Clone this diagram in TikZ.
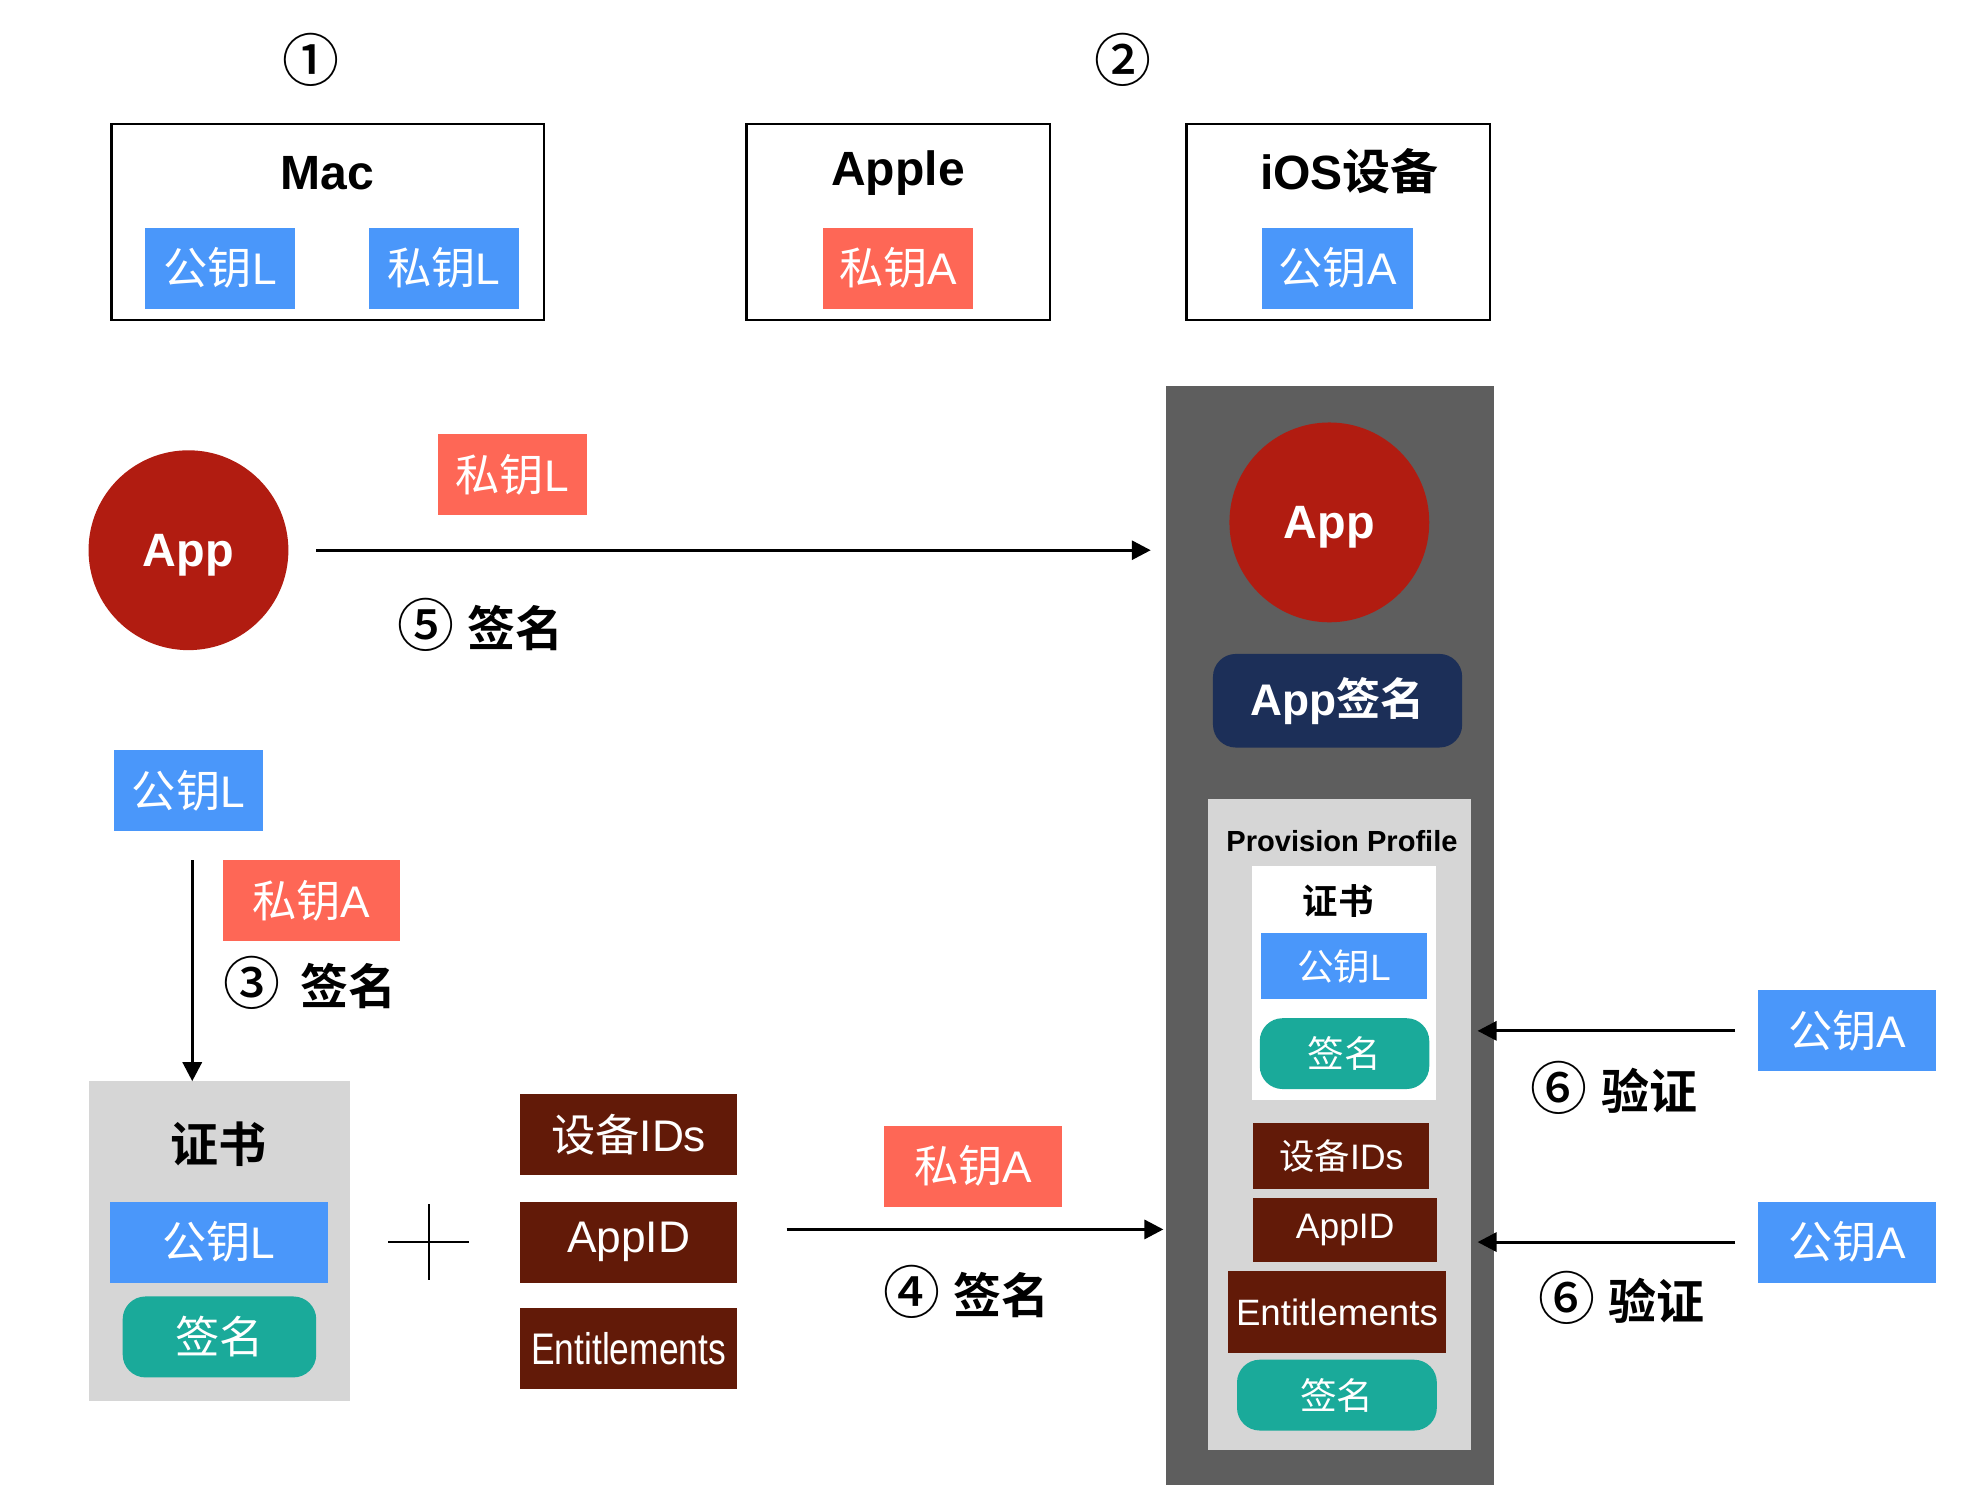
\documentclass[tikz,border=0pt]{standalone}
\usepackage{fontspec}
\usepackage{tikz}
\usetikzlibrary{arrows.meta}
\setmainfont{Liberation Sans}
\newfontfamily\cjk{Noto Sans CJK SC}[BoldFont={Noto Sans CJK SC Bold}]
\newfontfamily\cjkmid{Noto Sans CJK SC Medium}
\newcommand{\zh}[1]{{\cjk #1}}
\newcommand{\num}[1]{{\cjkmid\mdseries\fsz{45}#1}}
\newcommand{\fsz}[1]{\fontsize{#1}{#1}\selectfont}
\definecolor{keyblue}{RGB}{74,151,250}
\definecolor{keyred}{RGB}{254,103,86}
\definecolor{appred}{RGB}{177,28,17}
\definecolor{signavy}{RGB}{28,47,88}
\definecolor{signteal}{RGB}{26,170,154}
\definecolor{infobrown}{RGB}{98,26,8}
\definecolor{devgray}{RGB}{94,94,94}
\definecolor{profgray}{RGB}{214,214,214}

\begin{document}
\begin{tikzpicture}[x=1pt, y=-1pt,
		every node/.style={inner sep=0pt, text=white, font=\fsz{35}},
		keybox/.style={minimum width=118pt, minimum height=64pt},
		pubkey/.style={keybox, fill=keyblue},
		privkey/.style={keybox, fill=keyred},
		idbox/.style={fill=infobrown, minimum width=172pt, minimum height=64pt},
		sigbox/.style={fill=signteal, rounded corners=18pt},
		appcircle/.style={circle, fill=appred, minimum size=158pt, text depth=0pt, font=\fsz{37}\bfseries},
		hostbox/.style={draw=black, line width=2pt, minimum width=240pt, minimum height=155pt},
		title/.style={text=black, font=\fsz{38}\bfseries},
		lbl/.style={text=black, font=\fsz{38}\bfseries},
		arr/.style={line width=2.5pt, -{Triangle[length=15pt,width=15pt]}}]
		\useasboundingbox (0,0) rectangle (1567,1181);
		\node[text=black] (one) at (246,47) {\num{①}};
		\node[text=black] (two) at (888,47) {\num{②}};
		\node[hostbox, minimum width=342pt] (mac) at (259,175.5) {};
		\node[title] (macT) at (259,137) {Mac};
		\node[pubkey] (macPub) at (174,212) {\zh{公钥}L};
		\node[pubkey] (macPriv) at (351,212) {\zh{私钥}L};
		\node[hostbox] (apple) at (710,175.5) {};
		\node[title] (appleT) at (710,137) {Apple};
		\node[privkey] (applePriv) at (710,212) {\zh{私钥}A};
		\node[hostbox] (ios) at (1058,175.5) {};
		\node[title] (iosT) at (1067,135) {iOS\zh{设备}};
		\node[pubkey, minimum width=119pt] (iosPub) at (1057.5,212) {\zh{公钥}A};
		\node[appcircle] (appL) at (149,435) {App};
		\node[privkey] (signKeyL) at (405,375) {\zh{私钥}L};
		\node[fill=devgray, minimum width=259pt, minimum height=869pt] (device) at (1051.5,739.5) {};
		\draw[arr, shorten <=22pt, shorten >=12pt] (appL) -- (appL -| device.west);
		\node[lbl] (sign5) at (380,494) {\num{⑤} \zh{签名}};
		\node[appcircle] (appR) at (1051,413) {App};
		\node[fill=signavy, rounded corners=18pt, minimum width=197pt, minimum height=74pt, font=\fsz{35}\bfseries] (appSig) at (1057.5,554) {App\zh{签名}};
		\node[fill=profgray, minimum width=208pt, minimum height=514pt] (prov) at (1059,889) {};
		\node[text=black, font=\fsz{23}\bfseries] (provT) at (1061,665) {Provision Profile};
		\node[fill=white, minimum width=145pt, minimum height=185pt] (certR) at (1062.5,777.5) {};
		\node[text=black, font=\fsz{28}\bfseries] (certRT) at (1058,712) {\zh{证书}};
		\node[pubkey, minimum width=131pt, minimum height=52pt, font=\fsz{29}] (certRPub) at (1062.5,764) {\zh{公钥}L};
		\node[sigbox, minimum width=134pt, minimum height=56pt, font=\fsz{29}] (certRSig) at (1063,833) {\zh{签名}};
		\node[idbox, minimum width=139pt, minimum height=52pt, font=\fsz{28}] (devIdsR) at (1060.5,914) {\zh{设备}IDs};
		\node[idbox, minimum width=145pt, minimum height=51pt, font=\fsz{28}] (appIdR) at (1063.5,972.5) {AppID};
		\node[idbox, minimum width=172pt, minimum height=65pt, font=\fsz{29}] (entsR) at (1057,1037.5) {Entitlements};
		\node[sigbox, minimum width=158pt, minimum height=56pt, font=\fsz{29}] (provSig) at (1057,1103) {\zh{签名}};
		\foreach \i/\y/\lx/\ly in {1/815/1276/860, 2/982/1282/1026}
		{
			\node[pubkey, minimum width=141pt] (checkKey\i) at (1460.5,\y) {\zh{公钥}A};
			\draw[arr, shorten <=18pt, shorten >=5pt] (checkKey\i.west) -- (checkKey\i.west -| prov.east);
			\node[lbl] (verify\i) at (\lx,\ly) {\num{⑥} \zh{验证}};
		}
		\node[pubkey] (certKey) at (149,625) {\zh{公钥}L};
		\node[privkey, minimum width=140pt] (certSignKey) at (246,712) {\zh{私钥}A};
		\node[lbl] (sign3) at (245,777) {\num{③}\hspace{16pt}\zh{签名}};
		\node[fill=profgray, minimum width=207pt, minimum height=253pt] (cert) at (173.5,981.5) {};
		\draw[arr, shorten <=23pt] ([xshift=3pt]certKey.south) -- ([xshift=3pt]certKey.south |- cert.north);
		\node[text=black, font=\fsz{38}\bfseries] (certT) at (173,905) {\zh{证书}};
		\node[pubkey, minimum width=172pt] (certPub) at (173,982) {\zh{公钥}L};
		\node[sigbox, minimum width=153pt, minimum height=64pt] (certSig) at (173.5,1057) {\zh{签名}};
		\draw[line width=2pt] (307,982) -- (371,982) (339,952) -- (339,1012);
		\foreach \n/\y/\t in {devIds/897/\zh{设备}IDs, appId/982/AppID, ents/1066.5/\scalebox{0.8}[1]{Entitlements}}
			\node[idbox] (\n) at (497,\y) {\t};
		\node[privkey, minimum width=141pt] (profSignKey) at (769.5,922) {\zh{私钥}A};
		\coordinate (bundleOut) at (622,972);
		\draw[arr, shorten >=2pt] (bundleOut) -- (bundleOut -| device.west);
		\node[lbl] (sign4) at (764,1021) {\num{④} \zh{签名}};
	\end{tikzpicture}
\end{document}
